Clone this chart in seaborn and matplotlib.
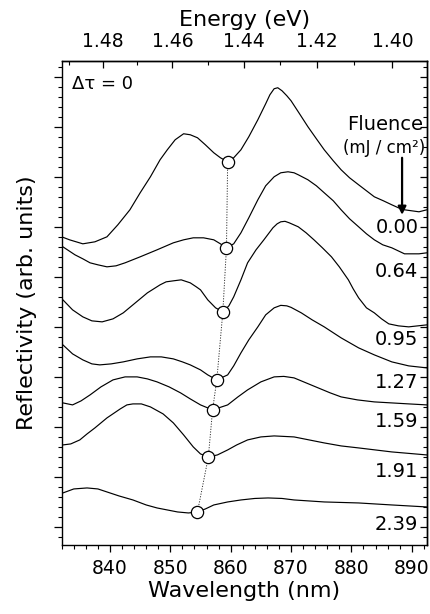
import numpy as np
import pandas as pd
import matplotlib
matplotlib.use("Agg")
import matplotlib.pyplot as plt
from matplotlib.ticker import MultipleLocator, NullFormatter
import seaborn as sns

# ---------------- data ----------------
fluences = ["0.00", "0.64", "0.95", "1.27", "1.59", "1.91", "2.39"]

wl_000 = [832.0, 833.3, 835.5, 837.5, 839.5, 841.3, 843.3, 845.0, 846.7, 848.3, 849.5, 850.8, 852.2,
          853.3, 854.5, 855.8, 857.2, 858.3, 859.5, 860.5, 861.7, 863.0, 864.5, 865.8, 866.5, 867.2,
          867.8, 868.5, 869.3, 870.0, 871.3, 872.8, 874.2, 875.5, 877.0, 878.3, 879.7, 881.2, 882.5,
          883.8, 885.3, 886.7, 887.8, 888.8, 890.0, 891.2, 892.5]
r_000 = [29.0, 28.7, 28.3, 28.5, 29.0, 30.2, 31.7, 33.4, 35.0, 36.7, 37.7, 38.7, 39.3,
         39.2, 38.9, 38.2, 37.4, 36.9, 36.5, 36.9, 37.7, 39.0, 40.7, 42.3, 43.2, 43.8,
         43.9, 43.6, 43.1, 42.6, 41.4, 40.0, 38.8, 37.7, 36.6, 35.7, 34.9, 34.2, 33.6,
         33.0, 32.6, 32.2, 31.9, 31.7, 31.6, 31.5, 31.7]

wl_064 = [832.2, 833.2, 834.2, 835.5, 836.7, 838.0, 839.5, 841.0, 842.5, 845.0, 847.8, 850.5, 852.2,
          853.8, 855.5, 857.2, 858.3, 859.3, 860.5, 861.7, 863.0, 864.5, 865.8, 867.2, 868.3, 869.5,
          870.5, 871.2, 872.8, 874.2, 875.5, 877.0, 878.3, 879.7, 881.2, 882.5, 883.8, 885.2, 886.7,
          888.8, 891.2, 892.5]
r_064 = [28.0, 27.6, 27.2, 26.8, 26.4, 26.2, 26.0, 26.1, 26.4, 27.0, 27.7, 28.4, 28.7,
         28.9, 28.9, 28.7, 28.3, 27.9, 28.3, 29.4, 30.9, 32.7, 34.1, 35.0, 35.4, 35.5,
         35.4, 35.2, 34.7, 34.1, 33.4, 32.6, 31.7, 30.8, 30.0, 29.3, 28.7, 28.2, 27.9,
         27.3, 27.3, 27.4]

wl_095 = [832.2, 833.8, 835.5, 837.0, 838.7, 840.5, 842.2, 844.2, 846.2, 848.3, 849.3, 850.5, 851.8,
          853.3, 854.3, 855.0, 856.2, 857.5, 858.7, 859.7, 860.5, 861.7, 862.8, 864.2, 865.5, 867.0,
          867.7, 868.3, 869.0, 869.7, 871.2, 872.5, 873.8, 875.2, 876.7, 878.0, 879.5, 880.3, 881.2,
          882.5, 883.8, 885.0, 886.2, 887.8, 889.5, 891.0, 892.5]
r_095 = [22.7, 21.7, 21.0, 20.6, 20.5, 20.8, 21.4, 22.4, 23.4, 24.2, 24.5, 24.6, 24.7,
         24.4, 24.0, 23.7, 22.7, 21.9, 21.5, 22.1, 23.0, 24.7, 26.4, 27.7, 28.7, 29.9,
         30.3, 30.5, 30.55, 30.4, 30.0, 29.4, 28.7, 27.9, 27.0, 26.0, 24.7, 23.8, 22.9,
         21.9, 21.4, 20.8, 20.3, 20.1, 20.0, 20.1, 20.2]

wl_127 = [832.2, 833.8, 835.5, 837.0, 838.3, 840.2, 842.2, 844.5, 846.7, 848.5, 850.5, 852.0, 853.3,
          855.0, 856.2, 857.7, 859.5, 860.5, 861.7, 863.0, 864.5, 865.8, 867.2, 868.3, 869.3, 870.0,
          871.7, 873.5, 875.5, 878.3, 881.2, 883.8, 886.7, 889.5, 892.5]
r_127 = [18.2, 17.3, 16.7, 16.3, 16.2, 16.3, 16.5, 16.8, 17.0, 17.0, 16.8, 16.5, 16.2,
         15.7, 15.2, 14.7, 15.2, 16.1, 17.4, 18.7, 20.0, 21.2, 21.9, 22.15, 22.1, 21.95,
         21.4, 20.7, 20.0, 18.9, 17.9, 17.2, 16.5, 16.1, 15.9]

wl_159 = [832.2, 833.8, 835.2, 836.7, 838.5, 840.5, 842.5, 844.5, 846.2, 847.8, 849.8, 851.7, 853.3,
          855.0, 857.0, 859.5, 861.2, 862.8, 865.0, 867.2, 868.8, 870.5, 872.5, 874.5, 876.5, 878.3,
          881.0, 883.8, 889.5, 892.5]
r_159 = [12.4, 12.2, 12.6, 13.2, 14.0, 14.7, 15.0, 15.0, 14.8, 14.5, 14.0, 13.4, 12.8,
         12.2, 11.7, 12.2, 13.0, 13.7, 14.5, 15.0, 15.05, 14.9, 14.4, 13.9, 13.4, 13.0,
         12.7, 12.5, 12.3, 12.2]

wl_191 = [832.2, 833.5, 835.0, 836.2, 837.5, 839.5, 841.7, 842.8, 843.8, 845.2, 846.7, 848.8, 850.5,
          852.2, 853.8, 855.0, 856.3, 857.8, 859.5, 861.0, 862.8, 865.0, 867.2, 870.5, 873.0, 875.5,
          878.3, 881.2, 886.7, 892.5]
r_191 = [8.2, 8.3, 8.7, 9.3, 9.9, 10.9, 11.8, 12.2, 12.3, 12.3, 12.0, 11.3, 10.4,
         9.2, 8.0, 7.3, 7.0, 7.2, 7.7, 8.2, 8.7, 9.0, 9.1, 9.0, 8.7, 8.4,
         8.1, 7.9, 7.5, 7.2]

wl_239 = [832.2, 834.0, 836.2, 838.0, 839.5, 841.5, 843.8, 846.0, 847.8, 849.5, 851.2, 853.0, 854.5,
          855.8, 857.2, 859.5, 861.7, 864.0, 866.2, 868.5, 870.5, 875.5, 881.2, 886.7, 892.5]
r_239 = [3.4, 3.8, 3.9, 3.8, 3.5, 3.1, 2.7, 2.2, 1.9, 1.7, 1.5, 1.4, 1.5,
         1.8, 2.2, 2.5, 2.7, 2.85, 2.9, 2.85, 2.7, 2.5, 2.4, 2.2, 2.0]

# positions of the marked minima (open circles)
min_wl = [859.5, 859.3, 858.7, 857.7, 857.0, 856.3, 854.5]
min_r = [36.5, 27.9, 21.5, 14.7, 11.7, 7.0, 1.5]

# vertical position of the fluence labels
label_r = [29.9, 25.5, 18.7, 14.4, 10.5, 5.5, 0.2]

bottom_ticks = [840, 850, 860, 870, 880, 890]
top_ticks = [1.48, 1.46, 1.44, 1.42, 1.40]
HC = 1241.5  # conversion used by the top energy axis

# ---------------- build tidy table ----------------
curves = [(wl_000, r_000), (wl_064, r_064), (wl_095, r_095), (wl_127, r_127),
          (wl_159, r_159), (wl_191, r_191), (wl_239, r_239)]
frames = []
for f, (w, r) in zip(fluences, curves):
    frames.append(pd.DataFrame({"wavelength": w, "refl": r, "fluence": f}))
df = pd.concat(frames, ignore_index=True)
mins = pd.DataFrame({"wavelength": min_wl, "refl": min_r})

# ---------------- plot ----------------
sns.set_theme(style="ticks")
plt.rcParams["font.family"] = ["DejaVu Sans"]
plt.rcParams["axes.linewidth"] = 1.0
for k in ["text.color", "axes.labelcolor", "xtick.color", "ytick.color", "axes.edgecolor"]:
    plt.rcParams[k] = "black"

fig = plt.figure(figsize=(4.3, 6.14), dpi=100)
ax = fig.add_axes([0.1435, 0.1116, 0.9926 - 0.1435, 0.9011 - 0.1116])

sns.lineplot(data=df, x="wavelength", y="refl", hue="fluence", units="fluence",
             estimator=None, sort=False, palette=["black"] * len(fluences),
             linewidth=0.85, legend=False, ax=ax)

sns.lineplot(data=mins, x="wavelength", y="refl", sort=False, estimator=None,
             color="#333333", linewidth=0.7, linestyle=(0, (1.2, 1.5)), ax=ax, zorder=3)
ax.plot(mins["wavelength"], mins["refl"], linestyle="none", marker="o",
        markersize=8.8, markerfacecolor="white", markeredgecolor="black",
        markeredgewidth=0.9, zorder=4)

ax.set_xlim(832, 892.5)
ax.set_ylim(-1.85, 46.6)

ax.set_xticks(bottom_ticks)
ax.xaxis.set_minor_locator(MultipleLocator(2))
ax.yaxis.set_major_locator(MultipleLocator(5))
ax.yaxis.set_minor_locator(MultipleLocator(1))
ax.yaxis.set_major_formatter(NullFormatter())
ax.tick_params(axis="x", which="major", direction="out", length=5, width=0.9,
               labelsize=13.5, pad=5, top=False, colors="black")
ax.tick_params(axis="x", which="minor", direction="out", length=3, width=0.8, top=False)
ax.tick_params(axis="y", which="major", direction="out", length=5.5, width=0.9, right=False)
ax.tick_params(axis="y", which="minor", direction="out", length=3, width=0.8, right=False)

ax.set_xlabel("Wavelength (nm)", fontsize=16, labelpad=2, color="black")
ax.set_ylabel("Reflectivity (arb. units)", fontsize=16, labelpad=9, color="black")

for s in ax.spines.values():
    s.set_visible(True)
    s.set_linewidth(1.0)
    s.set_color("black")


def wl2e(x):
    x = np.asarray(x, dtype=float)
    with np.errstate(divide="ignore", invalid="ignore"):
        return HC / x


top = ax.secondary_xaxis("top", functions=(wl2e, wl2e))
top.set_xticks(top_ticks)
top.set_xticklabels([f"{t:.2f}" for t in top_ticks])
top.xaxis.set_minor_locator(MultipleLocator(0.01))
top.tick_params(which="major", direction="in", length=5, width=0.9, labelsize=13.5, pad=7,
                colors="black")
top.tick_params(which="minor", direction="in", length=3, width=0.8, colors="black")
top.set_xlabel("Energy (eV)", fontsize=16, labelpad=4, color="black")

right = ax.secondary_yaxis("right")
right.yaxis.set_major_locator(MultipleLocator(5))
right.yaxis.set_minor_locator(MultipleLocator(1))
right.yaxis.set_major_formatter(NullFormatter())
right.tick_params(which="major", direction="in", length=5, width=0.9, colors="black")
right.tick_params(which="minor", direction="in", length=3, width=0.8, colors="black")

# annotations
ax.text(833.7, 44.3, "Δτ = 0", fontsize=13, ha="left", va="center", color="black")
ax.text(891.9, 40.2, "Fluence", fontsize=14, ha="right", va="center", color="black")
ax.text(892.3, 37.9, "(mJ / cm²)", fontsize=12, ha="right", va="center", color="black")
ax.annotate("", xy=(888.4, 31.2), xytext=(888.4, 36.9),
            arrowprops=dict(arrowstyle="-|>", lw=1.6, color="black",
                            mutation_scale=12, shrinkA=0, shrinkB=0))
for f, ry in zip(fluences, label_r):
    ax.text(891.1, ry, f, fontsize=14, ha="right", va="center", color="black")

fig.savefig("out.png", dpi=100)
